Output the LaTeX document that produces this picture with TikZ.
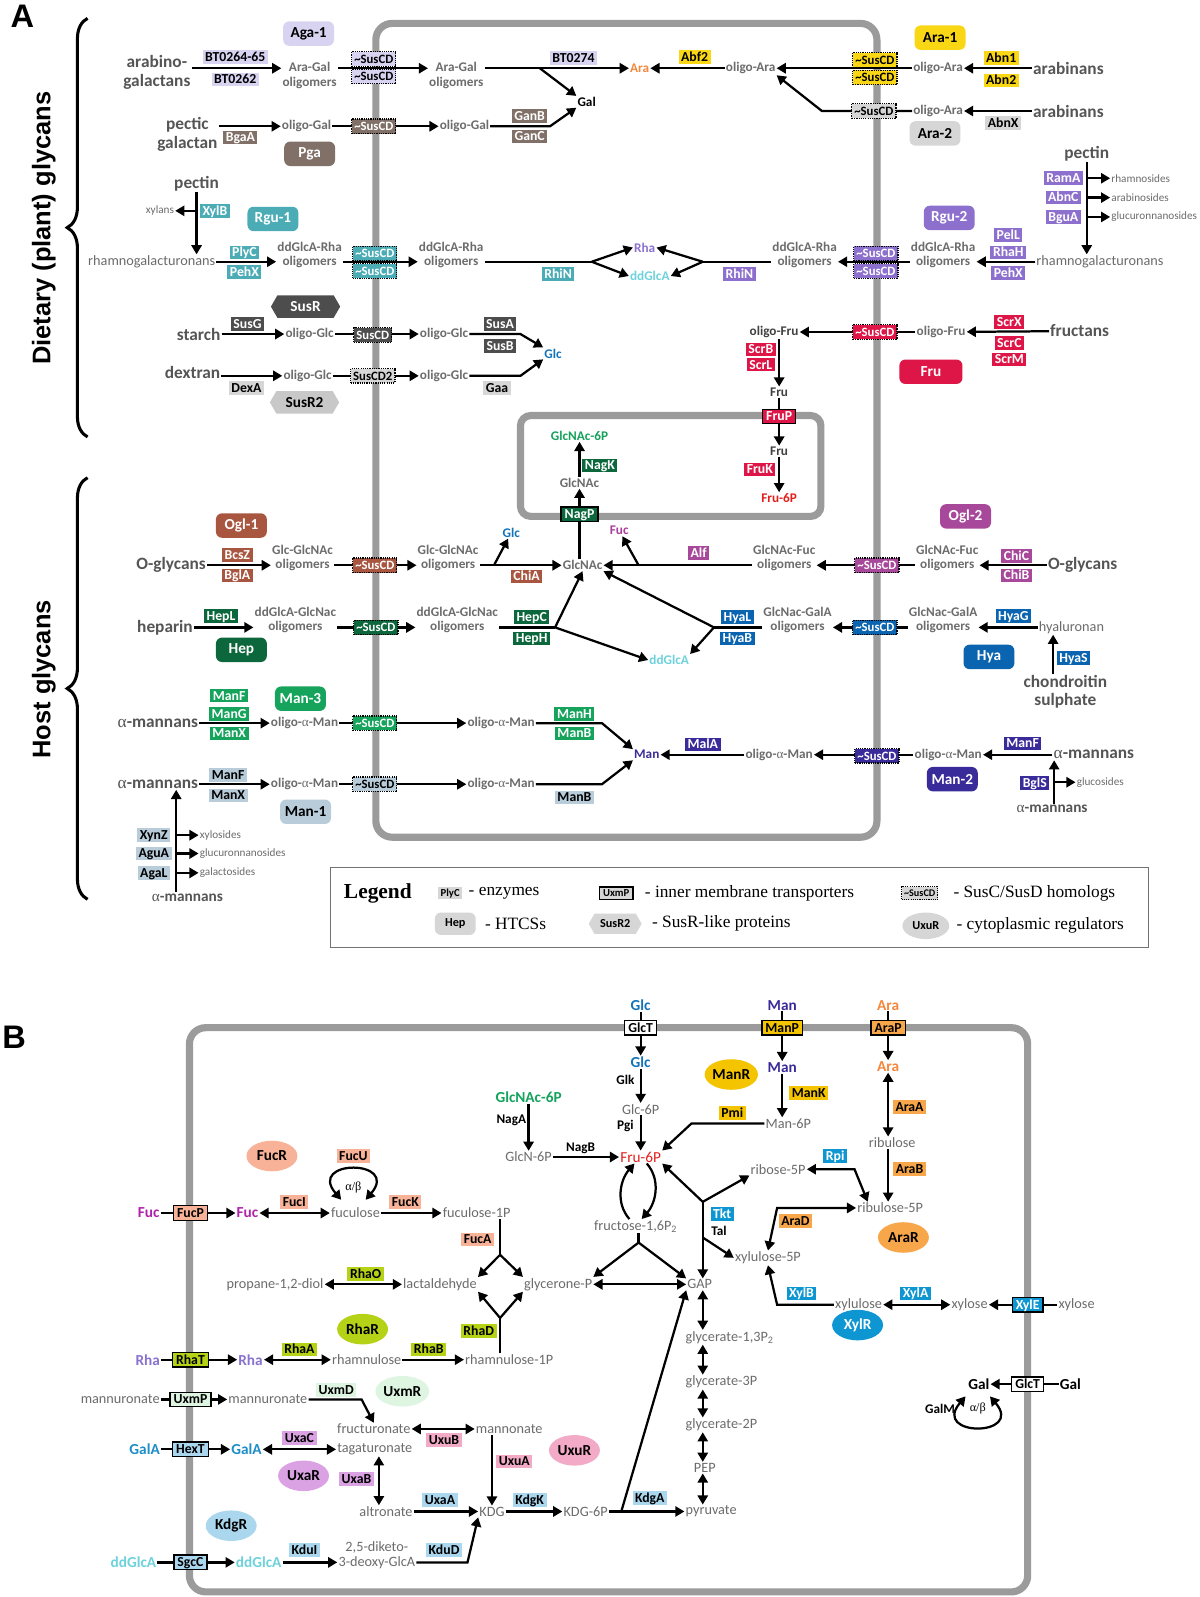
\documentclass[tikz,border=0pt]{standalone}
\usepackage{fontspec}
\setmainfont{Carlito}
\newfontfamily\arialf{Liberation Sans}
\newfontfamily\timesf{Liberation Serif}
\usepackage{tikz}
\usetikzlibrary{arrows.meta, calc, shapes.geometric, shapes.symbols, decorations.pathreplacing}
\pgfdeclarelayer{bg}
\pgfsetlayers{bg,main}
\newcommand{\fsz}[2]{\fontsize{#1}{#2}\selectfont}
\newcommand{\alf}{{\timesf\mdseries α}}
\newcommand{\scd}{\textasciitilde SusCD}

\begin{document}
\begin{tikzpicture}[
  x=1pt, y=-1pt,
  every node/.style={inner sep=1pt},
  enz/.style={fill=#1, text=white, font=\fsz{13.5}{14}\bfseries, inner xsep=2.5pt, inner ysep=1.8pt, text height=9.2pt, text depth=0.6pt},
  enzk/.style={enz=#1, text=black},
  sus/.style={enzk=#1, font=\fsz{12.5}{13}\bfseries, draw=black, densely dotted, line width=1.2pt, inner ysep=2.2pt},
  susw/.style={sus=#1, text=white},
  tport/.style={enzk=#1, draw=black, solid, line width=1.3pt, inner xsep=3.5pt, inner ysep=2.2pt},
  tportw/.style={tport=#1, text=white},
  htcs/.style={fill=#1, text=white, rounded corners=6pt, font=\fsz{15}{16}\bfseries, minimum width=50pt, minimum height=24pt, inner sep=2pt},
  htcsk/.style={htcs=#1, text=black},
  susr/.style={signal, signal to=west and east, signal pointer angle=120, fill=#1, text=white, font=\fsz{15}{16}\bfseries, minimum width=68pt, minimum height=22pt, inner sep=1pt},
  reg/.style={ellipse, fill=#1, font=\fsz{15}{16}\bfseries, inner sep=0pt, minimum width=50pt, minimum height=30pt},
  met/.style={text=metgray, font=\fsz{13}{14}\bfseries, align=center},
  metl/.style={text=metgray, font=\fsz{14}{15}, align=center},
  metb/.style={text=metgray, font=\fsz{14}{14}, align=center},
  sugb/.style={font=\fsz{15}{16}\bfseries},
  sub/.style={text=subgray, font=\fsz{17}{18}\bfseries, align=center},
  tiny/.style={text=metgray, font=\fsz{11}{11}, anchor=west},
  lab/.style={font=\fsz{13}{13}\bfseries},
  legtxt/.style={font=\timesf\fsz{17}{18}, anchor=west},
  arr/.style={-{Triangle[length=9pt, width=10pt]}, line width=2.2pt},
  darr/.style={{Triangle[length=9pt, width=10pt]}-{Triangle[length=9pt, width=10pt]}, line width=2.2pt},
  ln/.style={line width=2.2pt},
  cell/.style={draw=cellgray, line width=7pt, rounded corners=16pt},
]
  \definecolor{cellgray}{RGB}{155,155,155}
  \definecolor{metgray}{RGB}{108,108,108}
  \definecolor{subgray}{RGB}{85,85,85}
  \definecolor{cAga}{RGB}{217,211,242}
  \definecolor{cAra}{RGB}{250,215,20}
  \definecolor{cLg}{RGB}{214,214,214}
  \definecolor{cPga}{RGB}{128,112,103}
  \definecolor{cRgu1}{RGB}{76,172,182}
  \definecolor{cRgu2}{RGB}{141,112,205}
  \definecolor{cSusR}{RGB}{77,77,77}
  \definecolor{cSusR2}{RGB}{200,200,200}
  \definecolor{cFru}{RGB}{222,22,72}
  \definecolor{cHep}{RGB}{12,104,60}
  \definecolor{cOgl1}{RGB}{168,86,64}
  \definecolor{cOgl2}{RGB}{168,72,155}
  \definecolor{cHya}{RGB}{10,100,175}
  \definecolor{cMan3}{RGB}{22,163,92}
  \definecolor{cMan1}{RGB}{184,204,218}
  \definecolor{cMan2}{RGB}{58,43,154}
  \definecolor{tAra}{RGB}{245,135,60}
  \definecolor{tRha}{RGB}{138,114,207}
  \definecolor{tDdg}{RGB}{110,210,220}
  \definecolor{tGlc}{RGB}{18,115,184}
  \definecolor{tGn}{RGB}{20,163,92}
  \definecolor{tFru}{RGB}{226,32,28}
  \definecolor{tFuc}{RGB}{170,62,155}
  \definecolor{tMan}{RGB}{58,43,154}
  \definecolor{bFuc}{RGB}{248,178,152}
  \definecolor{bRha}{RGB}{182,210,22}
  \definecolor{bUxm}{RGB}{222,245,226}
  \definecolor{bUxa}{RGB}{218,162,226}
  \definecolor{bUxu}{RGB}{242,170,198}
  \definecolor{bKdg}{RGB}{170,214,238}
  \definecolor{bXyl}{RGB}{14,150,210}
  \definecolor{bMan}{RGB}{245,196,0}
  \definecolor{bAra}{RGB}{248,166,74}
  \definecolor{tFucB}{RGB}{176,34,170}
  \definecolor{tGalA}{RGB}{28,142,200}

  \useasboundingbox (0,0) rectangle (1178,1568);

  % ---------- panel A ----------
  \node[font=\arialf\bfseries\fsz{32}{34}] (lblA) at (22,16) {A};
  \node[rotate=90, font=\arialf\bfseries\fsz{25}{26}] (diet) at (43,224) {Dietary (plant) glycans};
  \node[rotate=90, font=\arialf\bfseries\fsz{25}{26}] (host) at (43,667) {Host glycans};
  \draw[decorate, decoration={brace, amplitude=20pt}, line width=3pt] (86,429) -- (86,18);
  \draw[decorate, decoration={brace, amplitude=20pt}, line width=3pt] (86,883) -- (86,469);

  \coordinate (r1) at (0,67);
  \coordinate (r4) at (0,257);
  \coordinate (r7) at (0,555);
  \coordinate (r8) at (0,616);

  % Aga / Ara
  \node[htcsk=cAga] (aga1) at (303,33) {Aga-1};
  \node[sub] (arabgal) at (154,71) {arabino-\\galactans};
  \node[enzk=cAga] (bt6465) at (231,56) {BT0264-65};
  \node[enzk=cAga] (bt62) at (231,78) {BT0262};
  \node[met] (agaO1) at (304,74) {Ara-Gal\\oligomers};
  \node[sus=cAga] (agaS1) at (367,58) {\scd};
  \node[sus=cAga] (agaS2) at (367,75) {\scd};
  \node[met] (agaO2) at (448,74) {Ara-Gal\\oligomers};
  \node[enzk=cAga] (bt74) at (563,57) {BT0274};
  \coordinate (agaJ) at (530,67);
  \node[met, text=black] (gal) at (576,100) {Gal};
  \node[met, text=tAra] (araA) at (628,67) {Ara};
  \node[enzk=cAra] (abf2) at (682,56) {Abf2};
  \node[met] (olAra1) at (737,67) {oligo-Ara};
  \node[sus=cAra] (araS1) at (859,59) {\scd};
  \node[sus=cAra] (araS2) at (859,76) {\scd};
  \node[met] (olAra2) at (921,67) {oligo-Ara};
  \node[enzk=cAra] (abn1) at (983,57) {Abn1};
  \node[enzk=cAra] (abn2) at (983,79) {Abn2};
  \node[sub] (arab1) at (1049,67) {arabinans};
  \node[htcsk=cAra] (ara1) at (923,37) {Ara-1};
  \coordinate (araK) at (807,109);
  \node[sus=cLg] (araS3) at (858,109) {\scd};
  \node[met] (olAra3) at (921,109) {oligo-Ara};
  \node[enzk=cLg] (abnX) at (985,121) {AbnX};
  \node[sub] (arab2) at (1049,109) {arabinans};
  \node[htcsk=cLg] (ara2) at (918,131) {Ara-2};

  % Pga
  \node[sub] (pgal) at (184,132) {pectic\\galactan};
  \node[enz=cPga] (bgaA) at (236,135) {BgaA};
  \node[met] (olGal1) at (301,124) {oligo-Gal};
  \node[susw=cPga] (pgaS) at (367,124) {\scd};
  \node[met] (olGal2) at (456,124) {oligo-Gal};
  \node[enz=cPga] (ganB) at (520,114) {GanB};
  \node[enz=cPga] (ganC) at (520,134) {GanC};
  \coordinate (galK) at (540,124);
  \node[htcs=cPga] (pga) at (304,151) {Pga};

  % Rgu
  \node[sub] (pectin1) at (193,180) {pectin};
  \node[tiny, anchor=center] (xylans) at (157,207) {xylans};
  \coordinate (xylJ) at (193,207);
  \node[enz=cRgu1] (xylB) at (211,207) {XylB};
  \node[htcs=cRgu1] (rgu1) at (268,215) {Rgu-1};
  \node[metl] (rhg1) at (149,257) {rhamnogalacturonans};
  \node[enz=cRgu1] (plyC) at (240,248) {PlyC};
  \node[enz=cRgu1] (pehX1) at (240,267) {PehX};
  \node[met] (rhaO1) at (304,250) {ddGlcA-Rha\\oligomers};
  \node[susw=cRgu1] (rguS1) at (368,249) {\scd};
  \node[susw=cRgu1] (rguS2) at (368,266) {\scd};
  \node[met] (rhaO2) at (443,250) {ddGlcA-Rha\\oligomers};
  \coordinate (rhiJ1) at (581,257);
  \node[enz=cRgu1] (rhiN1) at (548,269) {RhiN};
  \node[met, text=tRha] (rha) at (633,243) {Rha};
  \node[met, text=tDdg] (ddg1) at (638,271) {ddGlcA};
  \coordinate (rhiJ2) at (690,257);
  \node[enz=cRgu2] (rhiN2) at (726,269) {RhiN};
  \node[met] (rhaO3) at (790,250) {ddGlcA-Rha\\oligomers};
  \node[susw=cRgu2] (rguS3) at (860,249) {\scd};
  \node[susw=cRgu2] (rguS4) at (860,266) {\scd};
  \node[met] (rhaO4) at (926,250) {ddGlcA-Rha\\oligomers};
  \node[enz=cRgu2] (pelL) at (990,231) {PelL};
  \node[enz=cRgu2] (rhaH) at (990,248) {RhaH};
  \node[enz=cRgu2] (pehX2) at (990,268) {PehX};
  \node[metl] (rhg2) at (1080,257) {rhamnogalacturonans};
  \node[htcs=cRgu2] (rgu2) at (932,214) {Rgu-2};
  \node[sub] (pectin2) at (1067,151) {pectin};
  \node[enz=cRgu2] (ramA) at (1044,175) {RamA};
  \node[enz=cRgu2] (abnC) at (1044,194) {AbnC};
  \node[enz=cRgu2] (bguA) at (1044,213) {BguA};
  \coordinate (pJ1) at (1067,175);
  \coordinate (pJ2) at (1067,194);
  \coordinate (pJ3) at (1067,213);
  \node[tiny] (rhamn) at (1090,175) {rhamnosides};
  \node[tiny] (arabin) at (1090,194) {arabinosides};
  \node[tiny] (glucur1) at (1090,213) {glucuronnanosides};

  % Sus
  \node[susr=cSusR] (susR) at (300,301) {SusR};
  \node[sub] (starch) at (195,328) {starch};
  \node[enz=cSusR] (susG) at (243,318) {SusG};
  \node[met] (olGlc1) at (304,328) {oligo-Glc};
  \node[susw=cSusR] (susS) at (366,329) {SusCD};
  \node[met] (olGlc2) at (436,328) {oligo-Glc};
  \node[enz=cSusR] (susA) at (491,318) {SusA};
  \node[enz=cSusR] (susB) at (491,340) {SusB};
  \coordinate (glcK1) at (511,328);
  \node[met, text=tGlc] (glc) at (543,347) {Glc};
  \node[sub] (dextran) at (189,366) {dextran};
  \node[enzk=cLg] (dexA) at (242,381) {DexA};
  \node[met] (olGlc3) at (302,369) {oligo-Glc};
  \node[sus=cLg] (susS2) at (366,369) {SusCD2};
  \node[met] (olGlc4) at (436,369) {oligo-Glc};
  \node[enzk=cLg] (gaa) at (488,381) {Gaa};
  \coordinate (glcK2) at (511,369);
  \node[susr=cSusR2, text=black] (susR2) at (299,395) {SusR2};

  % Fru
  \node[sub] (fructans) at (1060,325) {fructans};
  \node[enz=cFru] (scrX) at (991,316) {ScrX};
  \node[enz=cFru] (scrC) at (991,337) {ScrC};
  \node[enz=cFru] (scrM) at (991,353) {ScrM};
  \node[met] (olFru2) at (924,326) {oligo-Fru};
  \node[susw=cFru] (fruS) at (859,326) {\scd};
  \node[met, text=black!75] (olFru1) at (760,326) {oligo-Fru};
  \node[enz=cFru] (scrB) at (747,343) {ScrB};
  \node[enz=cFru] (scrL) at (747,358) {ScrL};
  \node[met, text=black!75] (fru1) at (765,385) {Fru};
  \node[tportw=cFru] (fruP) at (765,409) {FruP};
  \node[met, text=black!75] (fru2) at (765,443) {Fru};
  \node[enz=cFru] (fruK) at (746,461) {FruK};
  \node[met, text=tFru] (fru6p) at (765,489) {Fru-6P};
  \node[htcs=cFru, minimum width=62pt] (fruH) at (914,365) {Fru};

  % GlcNAc
  \node[met, text=tGn] (gn6p) at (569,428) {GlcNAc-6P};
  \node[enz=cHep] (nagK) at (589,457) {NagK};
  \node[met] (gnac1) at (569,474) {GlcNAc};
  \node[tportw=cHep] (nagP) at (569,505) {NagP};
  \node[met] (gnac2) at (572,555) {GlcNAc};

  % Ogl
  \node[htcs=cOgl1] (ogl1) at (237,516) {Ogl-1};
  \node[sub] (oglyc1) at (168,555) {O-glycans};
  \node[enz=cOgl1] (bcsZ) at (233,545) {BcsZ};
  \node[enz=cOgl1] (bglA) at (233,565) {BglA};
  \node[met] (ggO1) at (297,548) {Glc-GlcNAc\\oligomers};
  \node[susw=cOgl1] (oglS1) at (368,555) {\scd};
  \node[met] (ggO2) at (440,548) {Glc-GlcNAc\\oligomers};
  \coordinate (chiJ) at (485,555);
  \node[met, text=tGlc] (glc2) at (502,523) {Glc};
  \node[enz=cOgl1] (chiA) at (517,566) {ChiA};
  \node[met, text=tFuc] (fuc) at (608,521) {Fuc};
  \coordinate (alfJ) at (627,555);
  \node[enz=cOgl2] (alf) at (686,543) {Alf};
  \node[met] (gfO1) at (770,548) {GlcNAc-Fuc\\oligomers};
  \node[susw=cOgl2] (oglS2) at (861,555) {\scd};
  \node[met] (gfO2) at (930,548) {GlcNAc-Fuc\\oligomers};
  \node[enz=cOgl2] (chiC) at (998,546) {ChiC};
  \node[enz=cOgl2] (chiB) at (998,565) {ChiB};
  \node[sub] (oglyc2) at (1063,555) {O-glycans};
  \node[htcs=cOgl2] (ogl2) at (948,507) {Ogl-2};

  % Hep / Hya
  \node[sub] (heparin) at (162,616) {heparin};
  \node[enz=cHep] (hepL) at (217,605) {HepL};
  \node[htcs=cHep] (hep) at (237,638) {Hep};
  \node[met] (hgO1) at (290,609) {ddGlcA-GlcNac\\oligomers};
  \node[susw=cHep] (hepS) at (369,616) {\scd};
  \node[met] (hgO2) at (449,609) {ddGlcA-GlcNac\\oligomers};
  \node[enz=cHep] (hepC) at (522,606) {HepC};
  \node[enz=cHep] (hepH) at (522,627) {HepH};
  \coordinate (hepJ) at (545,616);
  \node[met, text=tDdg] (ddg2) at (657,648) {ddGlcA};
  \node[enz=cHya] (hyaL) at (724,606) {HyaL};
  \node[enz=cHya] (hyaB) at (724,627) {HyaB};
  \coordinate (hyaJ) at (701,616);
  \node[met] (hyO1) at (783,609) {GlcNac-GalA\\oligomers};
  \node[susw=cHya] (hyaS1) at (859,616) {\scd};
  \node[met] (hyO2) at (926,609) {GlcNac-GalA\\oligomers};
  \node[enz=cHya] (hyaG) at (995,605) {HyaG};
  \node[metl] (hyal) at (1052,616) {hyaluronan};
  \coordinate (hyaV) at (1034,0);
  \node[enz=cHya] (hyaS) at (1054,646) {HyaS};
  \node[sub] (chond) at (1046,679) {chondroitin\\sulphate};
  \node[htcs=cHya] (hya) at (971,645) {Hya};

  % Man
  \node[htcs=cMan3] (man3) at (295,686) {Man-3};
  \node[sub] (aman1) at (155,710) {\alf-mannans};
  \node[enz=cMan3] (manF1) at (225,683) {ManF};
  \node[enz=cMan3] (manG) at (225,701) {ManG};
  \node[enz=cMan3] (manX1) at (225,720) {ManX};
  \node[met] (oam1) at (299,710) {oligo-\alf-Man};
  \node[susw=cMan3] (man3S) at (368,710) {\scd};
  \node[met] (oam2) at (492,710) {oligo-\alf-Man};
  \node[enz=cMan3] (manH) at (564,701) {ManH};
  \node[enz=cMan3] (manB1) at (564,720) {ManB};
  \coordinate (manK1) at (591,710);
  \node[met, text=tMan] (man) at (635,741) {Man};
  \node[sub] (aman2) at (155,770) {\alf-mannans};
  \node[enzk=cMan1] (manF2) at (224,761) {ManF};
  \node[enzk=cMan1] (manX2) at (224,781) {ManX};
  \node[met] (oam3) at (299,770) {oligo-\alf-Man};
  \node[sus=cMan1] (man1S) at (368,770) {\scd};
  \node[met] (oam4) at (492,770) {oligo-\alf-Man};
  \node[enzk=cMan1] (manB2) at (564,783) {ManB};
  \coordinate (manK2) at (591,770);
  \node[htcsk=cMan1] (man1) at (300,797) {Man-1};
  \coordinate (xV) at (173,0);
  \coordinate (xJ1) at (173,820);
  \coordinate (xJ2) at (173,838);
  \coordinate (xJ3) at (173,857);
  \node[enzk=cMan1] (xynZ) at (151,820) {XynZ};
  \node[enzk=cMan1] (aguA) at (151,838) {AguA};
  \node[enzk=cMan1] (agaL) at (151,857) {AgaL};
  \node[tiny] (xylos) at (195,820) {xylosides};
  \node[tiny] (glucur2) at (195,838) {glucuronnanosides};
  \node[tiny] (galact) at (195,857) {galactosides};
  \node[sub, font=\fsz{15}{16}\bfseries] (aman3) at (184,881) {\alf-mannans};
  \node[enz=cMan2] (malA) at (690,731) {MalA};
  \node[met] (oam5) at (765,741) {oligo-\alf-Man};
  \node[susw=cMan2] (man2S) at (861,742) {\scd};
  \node[met] (oam6) at (931,741) {oligo-\alf-Man};
  \node[enz=cMan2] (manF3) at (1004,730) {ManF};
  \node[sub] (aman4) at (1074,741) {\alf-mannans};
  \node[htcs=cMan2] (man2) at (935,765) {Man-2};
  \coordinate (bglV) at (1035,0);
  \coordinate (bglJ) at (1035,768);
  \node[enz=cMan2] (bglS) at (1016,769) {BglS};
  \node[tiny] (glucos) at (1056,768) {glucosides};
  \node[sub, font=\fsz{15}{16}\bfseries] (aman5) at (1033,794) {\alf-mannans};

  % legend
  \node[draw=black!55, line width=0.8pt, minimum width=804pt, minimum height=78pt] (legbox) at (726,891) {};
  \node[font=\timesf\bfseries\fsz{21}{22}] (legT) at (371,877) {Legend};
  \node[enzk=cLg, font=\fsz{10.5}{11}\bfseries, text height=7.5pt] (legE) at (442,877) {PlyC};
  \node[legtxt] (legEt) at (459,877) {- enzymes};
  \node[tport=cLg, font=\fsz{10.5}{11}\bfseries, text height=7.5pt] (legTp) at (605,877) {UxmP};
  \node[legtxt] (legTpt) at (632,877) {- inner membrane transporters};
  \node[sus=cLg, font=\fsz{10}{11}\bfseries, text height=7.5pt] (legS) at (903,877) {\scd};
  \node[legtxt] (legSt) at (935,877) {- SusC/SusD homologs};
  \node[htcsk=cLg, font=\fsz{12}{12}\bfseries, minimum width=40pt, minimum height=22pt] (legH) at (447,907) {Hep};
  \node[legtxt] (legHt) at (475,907) {- HTCSs};
  \node[susr=cLg, text=black, font=\fsz{12}{12}\bfseries, minimum width=52pt, minimum height=20pt] (legR) at (604,907) {SusR2};
  \node[legtxt] (legRt) at (639,907) {- SusR-like proteins};
  \node[reg=cLg, font=\fsz{12}{12}\bfseries, minimum width=46pt, minimum height=26pt] (legU) at (909,909) {UxuR};
  \node[legtxt] (legUt) at (938,909) {- cytoplasmic regulators};

  % ---------- panel B ----------
  \node[font=\arialf\bfseries\fsz{32}{34}] (lblB) at (14,1018) {B};

  \node[sugb, text=tGlc] (glcO) at (629,987) {Glc};
  \node[tport=white] (glcT1) at (629,1009) {GlcT};
  \node[sugb, text=tGlc] (glcI) at (629,1043) {Glc};
  \node[lab] (glk) at (614,1060) {Glk};
  \node[metb] (g6p) at (629,1089) {Glc-6P};
  \node[lab] (pgi) at (614,1106) {Pgi};
  \node[sugb, text=tFru, font=\fsz{15}{16}] (f6p) at (629,1136) {Fru-6P};

  \node[sugb, text=tMan] (manO) at (768,987) {Man};
  \node[tport=bMan] (manP) at (768,1009) {ManP};
  \node[sugb, text=tMan] (manI) at (768,1048) {Man};
  \node[reg=bMan] (manR) at (718,1055) {ManR};
  \node[enzk=bMan] (manK) at (794,1073) {ManK};
  \node[metb] (man6p) at (774,1103) {Man-6P};
  \node[enzk=bMan] (pmi) at (719,1093) {Pmi};
  \coordinate (pmiK) at (679,1103);

  \node[sugb, text=tAra] (araO) at (872,987) {Ara};
  \node[tport=bAra] (araP) at (872,1009) {AraP};
  \node[sugb, text=tAra] (araI) at (872,1047) {Ara};
  \node[enzk=bAra] (araAe) at (893,1087) {AraA};
  \node[metb] (ribu) at (876,1122) {ribulose};
  \node[enzk=bAra] (araB) at (893,1148) {AraB};
  \node[metb] (ru5p) at (874,1186) {ribulose-5P};
  \node[reg=bAra] (araR) at (887,1215) {AraR};
  \node[enz=bXyl] (rpi) at (820,1135) {Rpi};
  \node[metb] (r5p) at (764,1148) {ribose-5P};
  \coordinate (rpiK) at (839,1148);
  \node[enzk=bAra] (araD) at (781,1199) {AraD};
  \coordinate (araDK) at (763,1186);
  \node[metb] (xu5p) at (754,1235) {xylulose-5P};
  \node[enz=bXyl] (tkt) at (709,1192) {Tkt};
  \node[lab] (tal) at (706,1209) {Tal};
  \coordinate (tktJ) at (690,1180);
  \coordinate (talJ) at (690,1215);
  \node[metb] (fbp) at (624,1204) {fructose-1,6P\textsubscript{2}};
  \coordinate (fbpJ) at (627,1220);
  \node[metb] (gap) at (687,1261) {GAP};
  \node[metb] (glyP) at (548,1261) {glycerone-P};
  \coordinate (gcol) at (690,0);
  \node[metb, anchor=west] (g13) at (672,1313) {glycerate-1,3P\textsubscript{2}};
  \node[metb, anchor=west] (g3p) at (672,1357) {glycerate-3P};
  \node[metb, anchor=west] (g2p) at (672,1399) {glycerate-2P};
  \node[metb] (pep) at (692,1441) {PEP};
  \node[metb, anchor=west] (pyr) at (672,1484) {pyruvate};
  \node[enzk=bKdg] (kdgA) at (638,1471) {KdgA};

  \node[reg=bFuc] (fucR) at (267,1135) {FucR};
  \node[enzk=bFuc] (fucU) at (347,1135) {FucU};
  \coordinate (fucLoop) at (347,1166);
  \node[font=\timesf\fsz{12}{12}] (fucAB) at (fucLoop) {α/β};
  \node[sugb, text=tFucB] (fucO) at (146,1191) {Fuc};
  \node[tport=bFuc] (fucP) at (187,1191) {FucP};
  \node[sugb, text=tFucB] (fucIn) at (243,1191) {Fuc};
  \node[enzk=bFuc] (fucIe) at (289,1180) {FucI};
  \node[metb] (fucul) at (349,1191) {fuculose};
  \node[enzk=bFuc] (fucK) at (398,1180) {FucK};
  \node[metb] (fuc1p) at (468,1191) {fuculose-1P};
  \node[enzk=bFuc] (fucA) at (469,1217) {FucA};
  \coordinate (fucAJ) at (491,1232);
  \node[metb] (prop) at (270,1261) {propane-1,2-diol};
  \node[enzk=bRha] (rhaO) at (359,1251) {RhaO};
  \node[metb] (lact) at (432,1261) {lactaldehyde};
  \node[sugb, text=tGn] (gn6pB) at (519,1077) {GlcNAc-6P};
  \node[lab] (nagA) at (502,1100) {NagA};
  \node[metb] (glcn6p) at (519,1136) {GlcN-6P};
  \node[lab] (nagB) at (570,1127) {NagB};

  \node[reg=bRha] (rhaR) at (356,1305) {RhaR};
  \node[enzk=bRha] (rhaD) at (470,1307) {RhaD};
  \coordinate (rhaDJ) at (491,1294);
  \node[sugb, text=tRha] (rhaOut) at (145,1335) {Rha};
  \node[tport=bRha] (rhaT) at (187,1335) {RhaT};
  \node[sugb, text=tRha] (rhaIn) at (246,1335) {Rha};
  \node[enzk=bRha] (rhaA) at (294,1325) {RhaA};
  \node[metb] (rhmu) at (360,1335) {rhamnulose};
  \node[enzk=bRha] (rhaB) at (421,1325) {RhaB};
  \node[metb] (rhm1p) at (500,1335) {rhamnulose-1P};

  \node[metb] (manuO) at (118,1374) {mannuronate};
  \node[tport=bUxm] (uxmP) at (187,1374) {UxmP};
  \node[metb] (manuI) at (263,1374) {mannuronate};
  \node[enzk=bUxm] (uxmD) at (330,1365) {UxmD};
  \coordinate (uxmK) at (355,1374);
  \node[reg=bUxm] (uxmR) at (395,1366) {UxmR};
  \node[metb] (fruct) at (367,1403) {fructuronate};
  \node[enzk=bUxu] (uxuB) at (436,1414) {UxuB};
  \node[metb] (mannon) at (500,1403) {mannonate};

  \node[sugb, text=tGalA] (galaO) at (142,1423) {GalA};
  \node[tport=bKdg] (hexT) at (187,1423) {HexT};
  \node[sugb, text=tGalA] (galaI) at (242,1423) {GalA};
  \node[enzk=bUxa] (uxaC) at (294,1412) {UxaC};
  \node[metb] (tagat) at (368,1423) {tagaturonate};
  \node[reg=bUxa] (uxaR) at (298,1449) {UxaR};
  \node[enzk=bUxa] (uxaB) at (350,1452) {UxaB};
  \coordinate (uxaBx) at (372,0);
  \node[metb] (altr) at (379,1484) {altronate};
  \node[enzk=bKdg] (uxaA) at (432,1473) {UxaA};
  \node[metb] (kdg) at (483,1484) {KDG};
  \node[enzk=bUxu] (uxuA) at (505,1435) {UxuA};
  \node[reg=bUxu] (uxuR) at (564,1424) {UxuR};
  \node[enzk=bKdg] (kdgK) at (520,1473) {KdgK};
  \node[metb] (kdg6p) at (575,1484) {KDG-6P};
  \coordinate (kdgAJ) at (610,1484);
  \node[reg=bKdg] (kdgR) at (227,1498) {KdgR};

  \node[sugb, text=tDdg] (ddgO) at (131,1534) {ddGlcA};
  \node[tport=bKdg] (sgcC) at (187,1534) {SgcC};
  \node[sugb, text=tDdg] (ddgI) at (254,1534) {ddGlcA};
  \node[enzk=bKdg] (kduI) at (299,1522) {KduI};
  \node[metb] (dket) at (370,1527) {2,5-diketo-\\3-deoxy-GlcA};
  \node[enzk=bKdg] (kduD) at (436,1522) {KduD};
  \coordinate (kduK) at (459,1534);

  \node[enz=bXyl] (xylBe) at (787,1270) {XylB};
  \coordinate (xylBK) at (763,1281);
  \node[metb] (xylu) at (843,1281) {xylulose};
  \node[enz=bXyl] (xylA) at (899,1270) {XylA};
  \node[metb] (xyloI) at (952,1281) {xylose};
  \node[tportw=bXyl] (xylE) at (1009,1281) {XylE};
  \node[metb] (xyloO) at (1057,1281) {xylose};
  \node[reg=bXyl, text=white] (xylR) at (842,1301) {XylR};

  \node[sugb] (galI) at (961,1359) {Gal};
  \node[tport=white] (glcT2) at (1009,1359) {GlcT};
  \node[sugb] (galO) at (1051,1359) {Gal};
  \node[lab] (galM) at (923,1383) {GalM};
  \coordinate (galLoop) at (960,1383);
  \node[font=\timesf\fsz{12}{12}] (galAB) at (galLoop) {α/β};

  % ---------- membranes and connectors ----------
  \begin{pgfonlayer}{bg}
    \fill[white] (0,0) rectangle (1178,1568);
    \draw[cell] (369,23) rectangle (861,822);
    \draw[cell, rounded corners=10pt] (511,408) rectangle (806,507);
    \draw[cell] (186,1009) rectangle (1009,1563);

    \draw[arr] (arabgal.east |- r1) -- (agaO1.west |- r1);
    \draw[arr] (agaO1.east |- r1) -- (agaO2.west |- r1);
    \draw[arr] (agaO2.east |- r1) -- (araA);
    \draw[arr] (agaJ) -- (gal.north west);
    \draw[arr] (olAra1) -- (araA);
    \draw[arr] (olAra2) -- (olAra1);
    \draw[arr] (arab1) -- (olAra2);
    \draw[arr] (olAra3) -- (araK) -- (olAra1.south east);
    \draw[arr] (arab2) -- (olAra3);
    \draw[arr] (pgal.east |- olGal1) -- (olGal1);
    \draw[arr] (olGal1) -- (olGal2);
    \draw[arr] (olGal2) -- (galK) -- (gal.south west);

    \draw[arr] (pectin1) -- (pectin1 |- rhg1.north);
    \draw[arr] (xylJ) -- (xylans);
    \draw[arr] (rhg1.east |- r4) -- (rhaO1.west |- r4);
    \draw[arr] (rhaO1.east |- r4) -- (rhaO2.west |- r4);
    \draw[ln] (rhaO2.east |- r4) -- (rhiJ1);
    \draw[arr] (rhiJ1) -- (rha.west);
    \draw[arr] (rhiJ1) -- (ddg1.west);
    \draw[ln] (rhaO3.west |- r4) -- (rhiJ2);
    \draw[arr] (rhiJ2) -- (rha.east);
    \draw[arr] (rhiJ2) -- (ddg1.east);
    \draw[arr] (rhaO4.west |- r4) -- (rhaO3.east |- r4);
    \draw[arr] (rhg2.west |- r4) -- (rhaO4.east |- r4);
    \draw[arr] (pectin2) -- (pectin2 |- rhg2.north);
    \draw[arr] (pJ1) -- (rhamn);
    \draw[arr] (pJ2) -- (arabin);
    \draw[arr] (pJ3) -- (glucur1);

    \draw[arr] (starch) -- (olGlc1);
    \draw[arr] (olGlc1) -- (olGlc2);
    \draw[arr] (olGlc2) -- (glcK1) -- (glc.north west);
    \draw[arr] (dextran.east |- olGlc3) -- (olGlc3);
    \draw[arr] (olGlc3) -- (olGlc4);
    \draw[arr] (olGlc4) -- (glcK2) -- (glc.south west);

    \draw[arr] (fructans) -- (olFru2);
    \draw[arr] (olFru2) -- (olFru1);
    \draw[arr] (olFru1.south -| fru1) -- (fru1);
    \draw[ln] (fru1) -- (fruP);
    \draw[arr] (fruP) -- (fru2);
    \draw[arr] (fru2) -- (fru6p);

    \draw[arr] (gnac1) -- (gn6p);
    \draw[arr] (gnac2.north -| nagP) -- (gnac1);

    \draw[arr] (oglyc1) -- (ggO1.west |- r7);
    \draw[arr] (ggO1.east |- r7) -- (ggO2.west |- r7);
    \draw[arr] (ggO2.east |- r7) -- (gnac2);
    \draw[arr] (chiJ) -- (glc2);
    \draw[arr] (gfO1.west |- r7) -- (gnac2);
    \draw[arr] (alfJ) -- (fuc);
    \draw[arr] (gfO2.west |- r7) -- (gfO1.east |- r7);
    \draw[arr] (oglyc2) -- (gfO2.east |- r7);

    \draw[arr] (heparin) -- (hgO1.west |- r8);
    \draw[arr] (hgO1.east |- r8) -- (hgO2.west |- r8);
    \draw[ln] (hgO2.east |- r8) -- (hepJ);
    \draw[arr] (hepJ) -- (gnac2.south);
    \draw[arr] (hepJ) -- (ddg2.west);
    \draw[ln] (hyO1.west |- r8) -- (hyaJ);
    \draw[arr] (hyaJ) -- (gnac2.south east);
    \draw[arr] (hyaJ) -- (ddg2.north east);
    \draw[arr] (hyO2.west |- r8) -- (hyO1.east |- r8);
    \draw[arr] (hyal) -- (hyO2.east |- r8);
    \draw[arr] (chond.north -| hyaV) -- (hyal.south -| hyaV);

    \draw[arr] (aman1) -- (oam1);
    \draw[arr] (oam1) -- (oam2);
    \draw[arr] (oam2) -- (manK1) -- (man.north west);
    \draw[arr] (aman2) -- (oam3);
    \draw[arr] (oam3) -- (oam4);
    \draw[arr] (oam4) -- (manK2) -- (man.south west);
    \draw[arr] (aman3.north -| xV) -- (aman2.south -| xV);
    \draw[arr] (xJ1) -- (xylos);
    \draw[arr] (xJ2) -- (glucur2);
    \draw[arr] (xJ3) -- (galact);
    \draw[arr] (oam5) -- (man);
    \draw[arr] (oam6) -- (oam5);
    \draw[arr] (aman4) -- (oam6);
    \draw[arr] (aman5.north -| bglV) -- (aman4.south -| bglV);
    \draw[arr] (bglJ) -- (glucos);

    % panel B
    \draw[arr] (glcO) -- (glcI);
    \draw[arr] (glcI) -- (g6p);
    \draw[arr] (g6p) -- (f6p);
    \draw[arr] (manO) -- (manI);
    \draw[arr] (manI) -- (man6p.north -| manI);
    \draw[arr] (man6p) -- (pmiK) -- (f6p.north east);
    \draw[arr] (araO) -- (araI);
    \draw[darr] (araI) -- (ribu.north -| araI);
    \draw[arr] (ribu.south -| araI) -- (ru5p.north -| araI);
    \draw[darr] (r5p) -- (rpiK) -- ([xshift=-22pt]ru5p.north);
    \draw[darr] (xu5p.north) -- (araDK) -- (ru5p);
    \draw[arr] (tktJ) -- (f6p.south east);
    \draw[arr] (tktJ) -- (r5p.south west);
    \draw[arr] (tktJ) -- (gap.north -| tktJ);
    \draw[arr] (talJ) -- (xu5p.west);
    \draw[arr] ([xshift=-6pt]fbp.north) .. controls +(-14,-16) and +(-14,16) .. ([xshift=-6pt]f6p.south);
    \draw[arr] ([xshift=6pt]f6p.south) .. controls +(14,16) and +(14,-16) .. ([xshift=6pt]fbp.north);
    \draw[ln] (fbp.south -| fbpJ) -- (fbpJ);
    \draw[arr] (fbpJ) -- (gap.north west);
    \draw[arr] (fbpJ) -- (glyP.north east);
    \draw[darr] (glyP) -- (gap);
    \draw[darr] (gap.south -| gcol) -- (g13.north -| gcol);
    \draw[darr] (g13.south -| gcol) -- (g3p.north -| gcol);
    \draw[darr] (g3p.south -| gcol) -- (g2p.north -| gcol);
    \draw[darr] (g2p.south -| gcol) -- (pep.north -| gcol);
    \draw[darr] (pep.south -| gcol) -- (pyr.north -| gcol);
    \draw[arr] (kdg6p) -- (pyr);
    \draw[arr] (kdgAJ) -- (gap.south west);

    \draw[arr] (gn6pB) -- (glcn6p);
    \draw[arr] (glcn6p) -- (f6p);
    \draw[arr] (fucO) -- (fucIn);
    \draw[darr] (fucIn) -- (fucul);
    \draw[arr] (fucul) -- (fuc1p);
    \draw[darr] ($(fucLoop)+(-12,12)$) .. controls ($(fucLoop)+(-46,-28)$) and ($(fucLoop)+(46,-28)$) .. ($(fucLoop)+(12,12)$);
    \draw[ln] (fuc1p.south -| fucAJ) -- (fucAJ);
    \draw[arr] (fucAJ) -- (lact.north east);
    \draw[arr] (fucAJ) -- (glyP.north west);
    \draw[darr] (prop) -- (lact);
    \draw[ln] (rhm1p.north -| rhaDJ) -- (rhaDJ);
    \draw[arr] (rhaDJ) -- (lact.south east);
    \draw[arr] (rhaDJ) -- (glyP.south west);
    \draw[arr] (rhaOut) -- (rhaIn);
    \draw[darr] (rhaIn) -- (rhmu);
    \draw[arr] (rhmu) -- (rhm1p);
    \draw[arr] (manuO) -- (manuI);
    \draw[arr] (manuI) -- (uxmK) -- (fruct.north);
    \draw[darr] (fruct) -- (mannon);
    \draw[arr] (mannon.south -| kdg) -- (kdg);
    \draw[arr] (galaO) -- (galaI);
    \draw[darr] (galaI) -- (tagat);
    \draw[darr] (tagat.south -| uxaBx) -- (altr.north -| uxaBx);
    \draw[arr] (altr) -- (kdg);
    \draw[arr] (kdg) -- (kdg6p);
    \draw[arr] (ddgO) -- (ddgI);
    \draw[arr] (ddgI) -- (dket.west |- ddgI);
    \draw[arr] (dket.east |- ddgI) -- (kduK) -- (kdg.south west);
    \draw[arr] (xyloO) -- (xyloI);
    \draw[darr] (xylu) -- (xyloI);
    \draw[arr] (xylu) -- (xylBK) -- (xu5p.south);
    \draw[arr] (galO) -- (galI);
    \draw[darr] ($(galLoop)+(-12,-12)$) .. controls ($(galLoop)+(-46,28)$) and ($(galLoop)+(46,28)$) .. ($(galLoop)+(12,-12)$);
  \end{pgfonlayer}
\end{tikzpicture}
\end{document}
